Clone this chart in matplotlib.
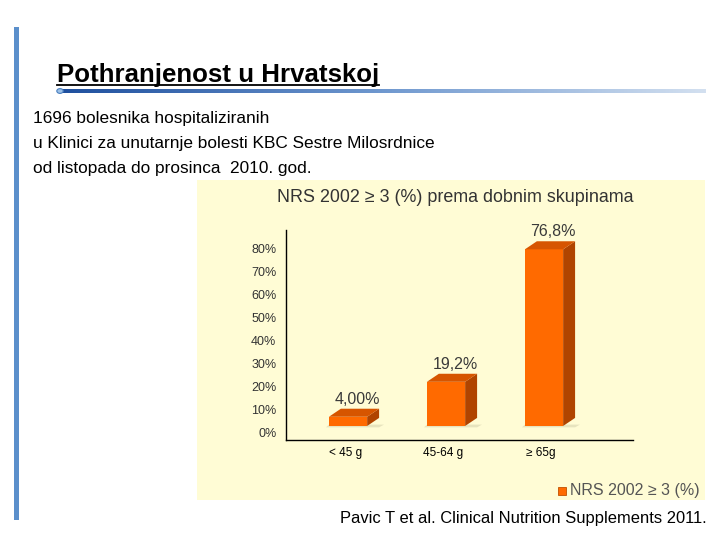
import numpy as np
import matplotlib
matplotlib.use('Agg')
import matplotlib.pyplot as plt
from matplotlib.patches import Rectangle, Polygon, Circle
import matplotlib.transforms as mtransforms

# data
categories = ['< 45 g', '45-64 g', '\u2265 65g']
values = [4.0, 19.2, 76.8]
value_labels = ['4,00%', '19,2%', '76,8%']
yticks = [0, 10, 20, 30, 40, 50, 60, 70, 80]

plt.rcParams['font.family'] = ['Liberation Sans', 'DejaVu Sans']

W, H = 720, 540
fig = plt.figure(figsize=(7.2, 5.4), dpi=100)
fig.patch.set_facecolor('white')

def fx(x):
    return x / W

def fy(y):
    return 1 - y / H

# left blue bar
fig.patches.append(Rectangle((fx(14), fy(520)), 5 / W, 493 / H, transform=fig.transFigure,
                             facecolor='#5B8FCB', edgecolor='none'))

# slide title with underline (width taken from the rendered text)
title = fig.text(fx(57), fy(82), 'Pothranjenost u Hrvatskoj', fontsize=18.6, fontweight='bold',
                 va='baseline', color='black')
fig.canvas.draw()
bb = title.get_window_extent().transformed(fig.transFigure.inverted())
fig.lines.append(plt.Line2D([bb.x0, bb.x1], [fy(84.5), fy(84.5)], transform=fig.transFigure,
                            color='black', lw=1.3))

# gradient rule under title
grad = np.linspace(0, 1, 256).reshape(1, -1)
cmap = matplotlib.colors.LinearSegmentedColormap.from_list('g', ['#1E4F9E', '#6F98CF', '#D3E0F0'])
gax = fig.add_axes([fx(59), fy(93), (706 - 59) / W, 4 / H])
gax.imshow(grad, aspect='auto', cmap=cmap)
gax.axis('off')
fig.patches.append(Circle((fx(60), fy(91)), 3.2 / W, transform=fig.transFigure,
                          facecolor='#9CC0E6', edgecolor='#4A7FC0', lw=0.8, zorder=5))

# intro lines
intro = ['1696 bolesnika hospitaliziranih',
         'u Klinici za unutarnje bolesti KBC Sestre Milosrdnice',
         'od listopada do prosinca  2010. god.']
for i, line in enumerate(intro):
    fig.text(fx(33), fy(123 + 25 * i), line, fontsize=12.4, color='black', va='baseline')

# chart panel
pax = fig.add_axes([fx(197), fy(500), 508 / W, 320 / H], zorder=1)
pax.set_facecolor('#FFFCD5')
pax.set_xticks([])
pax.set_yticks([])
for s in pax.spines.values():
    s.set_visible(False)

fig.text(fx(455), fy(197), 'NRS 2002 \u2265 3 (%) prema dobnim skupinama', fontsize=12.9,
         color='#333333', ha='center', va='center', zorder=5)

ax = fig.add_axes([fx(286), fy(440), (633 - 286) / W, (440 - 230) / H], zorder=2)
ax.set_facecolor('none')
x = np.arange(len(values))
ax.set_xlim(-0.633, 2.908)
ax.set_ylim(-6.1, 85.2)

bw = 0.39
dx, dy = 0.122, 3.5
front = '#FF6A00'
top_c = '#D65500'
side_c = '#B04400'
for xi, v, lab in zip(x, values, value_labels):
    l, r = xi - bw / 2, xi + bw / 2
    # shadow
    ax.add_patch(Polygon([(l - 0.03, -0.6), (r + dx, -0.6), (r + dx + 0.05, 0.6), (l, 0.6)],
                         closed=True, facecolor='#D8D4B0', edgecolor='none', alpha=0.6, zorder=1))
    ax.add_patch(Rectangle((l, 0), bw, v, facecolor=front, edgecolor='none', zorder=3))
    ax.add_patch(Polygon([(r, 0), (r + dx, dy), (r + dx, v + dy), (r, v)],
                         closed=True, facecolor=side_c, edgecolor='none', zorder=3))
    ax.add_patch(Polygon([(l, v), (l + dx, v + dy), (r + dx, v + dy), (r, v)],
                         closed=True, facecolor=top_c, edgecolor='none', zorder=3))
    ax.text(xi + dx / 2 + 0.03, v + dy + 0.8, lab, ha='center', va='bottom',
            fontsize=11.5, color='#3A3A3A')

for s in ['top', 'right']:
    ax.spines[s].set_visible(False)
ax.spines['left'].set_color('black')
ax.spines['bottom'].set_color('black')
ax.spines['left'].set_linewidth(1)
ax.spines['bottom'].set_linewidth(1)

ax.set_yticks(yticks)
ax.set_yticklabels([f'{t}%' for t in yticks], fontsize=9, color='#333333')
ax.tick_params(axis='y', length=0, pad=7)
offset = mtransforms.ScaledTranslation(0, -7 / 100, fig.dpi_scale_trans)
for lbl in ax.get_yticklabels():
    lbl.set_transform(lbl.get_transform() + offset)

ax.set_xticks(x - 0.03)
ax.set_xticklabels(categories, fontsize=8.5, color='black')
ax.tick_params(axis='x', length=0, pad=5)

# legend
fig.patches.append(Rectangle((fx(558), fy(495)), 8 / W, 8 / H, transform=fig.transFigure,
                             facecolor='#FF6A00', edgecolor='#C05000', lw=0.6, zorder=5))
fig.text(fx(570), fy(491), 'NRS 2002 \u2265 3 (%)', fontsize=11.5, color='#555555', va='center',
         zorder=5)

# citation
fig.text(fx(340), fy(518), 'Pavic T et al. Clinical Nutrition Supplements 2011.', fontsize=11.9,
         color='black', va='center')

fig.savefig('out.png', dpi=100)
